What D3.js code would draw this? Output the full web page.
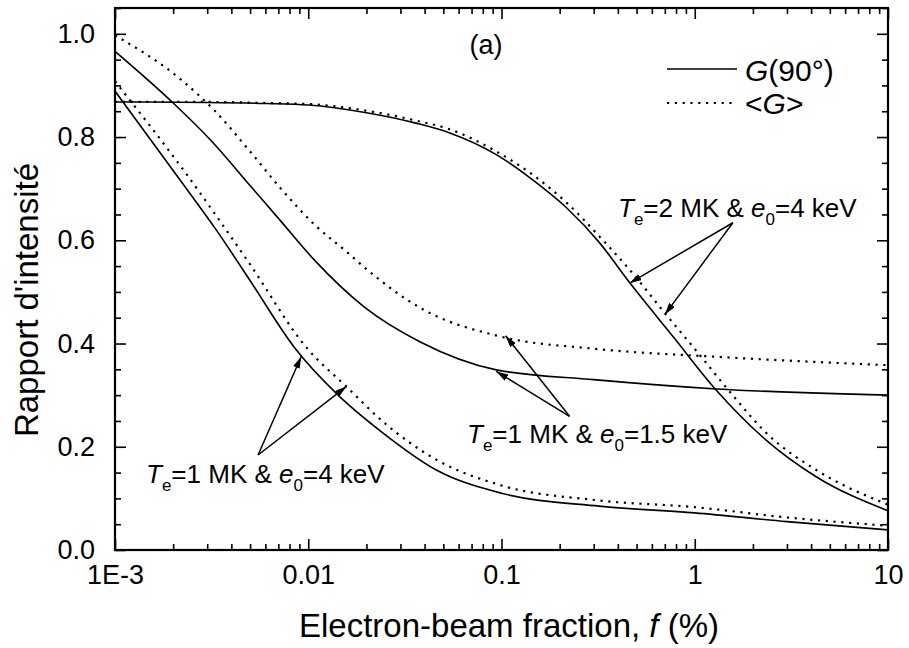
<!DOCTYPE html>
<html>
<head>
<meta charset="utf-8">
<script src="https://cdn.jsdelivr.net/npm/d3@7"></script>
<style>
body { margin: 0; background: #fff; }
text { font-family: "Liberation Sans", Arial, sans-serif; fill: #000; }
</style>
</head>
<body>
<svg id="chart" width="909" height="648"></svg>
<script>
// values, f in %
// Te=1 MK & e0=4 keV
var fT1e4 = [0.001, 0.0022, 0.0033, 0.0049, 0.0085, 0.0141, 0.0243, 0.046, 0.1, 0.32, 1, 3, 10];
var g90T1e4 = [0.889, 0.714, 0.623, 0.527, 0.392, 0.302, 0.227, 0.155, 0.110, 0.085, 0.072, 0.055, 0.039];
var fT1e4avg = [0.001, 0.0022, 0.0049, 0.0098, 0.0158, 0.025, 0.046, 0.1, 0.32, 1, 3, 10];
var avgT1e4 = [0.908, 0.742, 0.558, 0.392, 0.316, 0.245, 0.175, 0.125, 0.096, 0.083, 0.063, 0.047];
// Te=1 MK & e0=1.5 keV
var fT1e15 = [0.001, 0.002, 0.0032, 0.005, 0.0071, 0.0108, 0.0196, 0.038, 0.094, 0.3, 1.3, 10];
var g90T1e15 = [0.966, 0.866, 0.790, 0.706, 0.640, 0.561, 0.470, 0.403, 0.349, 0.330, 0.312, 0.300];
var fT1e15avg = [0.001, 0.0022, 0.0033, 0.0049, 0.0073, 0.0108, 0.016, 0.0196, 0.038, 0.1, 0.3, 1.34, 10];
var avgT1e15 = [0.997, 0.911, 0.850, 0.776, 0.698, 0.630, 0.576, 0.547, 0.469, 0.413, 0.390, 0.374, 0.358];
// Te=2 MK & e0=4 keV
var fT2e4 = [0.001, 0.003, 0.006, 0.01, 0.02, 0.036, 0.054, 0.094, 0.145, 0.217, 0.322, 0.46, 0.77, 1.29, 2.34, 4.25, 10];
var g90T2e4 = [0.868, 0.867, 0.865, 0.862, 0.847, 0.827, 0.808, 0.766, 0.717, 0.663, 0.595, 0.518, 0.414, 0.310, 0.213, 0.142, 0.076];
var fT2e4avg = [0.001, 0.003, 0.006, 0.01, 0.02, 0.036, 0.054, 0.094, 0.145, 0.217, 0.322, 0.46, 0.70, 1.06, 1.57, 2.34, 4.25, 10];
var avgT2e4 = [0.868, 0.868, 0.866, 0.864, 0.851, 0.832, 0.815, 0.772, 0.727, 0.673, 0.607, 0.543, 0.459, 0.378, 0.300, 0.227, 0.155, 0.088];

var xMajor = [0.001, 0.01, 0.1, 1, 10];
var xTickLabels = ["1E-3", "0.01", "0.1", "1", "10"];
var yMajor = [0, 0.2, 0.4, 0.6, 0.8, 1.0];
var yTickLabels = ["0.0", "0.2", "0.4", "0.6", "0.8", "1.0"];

// arrows: [from f, from value, to f, to value]
var arrowsT2e4 = [[1.575, 0.634, 0.46, 0.517], [1.575, 0.634, 0.70, 0.456]];
var arrowsT1e15 = [[0.225, 0.259, 0.094, 0.346], [0.225, 0.259, 0.105, 0.415]];
var arrowsT1e4 = [[0.0055, 0.184, 0.0092, 0.375], [0.0055, 0.184, 0.0158, 0.317]];

var svg = d3.select("#chart");
var pL = 115, pR = 888, pT = 8, pB = 550;
var x = d3.scaleLog().domain([0.001, 10]).range([pL, pR]);
var y = d3.scaleLinear().domain([0, 1.05]).range([pB, pT]);

svg.append("rect").attr("width", 909).attr("height", 648).attr("fill", "#fff");

var defs = svg.append("defs");
defs.append("clipPath").attr("id", "plot")
    .append("rect").attr("x", pL).attr("y", pT).attr("width", pR - pL).attr("height", pB - pT);
defs.append("marker").attr("id", "head")
    .attr("viewBox", "0 0 12 7").attr("refX", 12).attr("refY", 3.5)
    .attr("markerWidth", 12).attr("markerHeight", 7)
    .attr("markerUnits", "userSpaceOnUse").attr("orient", "auto")
    .append("path").attr("d", "M0,0L12,3.5L0,7z").attr("fill", "#000");

// minor tick positions
var xMinor = [];
[0.001, 0.01, 0.1, 1].forEach(function (d) {
    for (var k = 2; k <= 9; k++) xMinor.push(d * k);
});
var yMinor = d3.range(0, 1.051, 0.05).filter(function (v) {
    return Math.abs(v * 5 - Math.round(v * 5)) > 1e-6;
});

function styleAxis(g) {
    g.select(".domain").remove();
    g.selectAll("line").attr("stroke", "#000").attr("stroke-width", 1.6);
    g.selectAll("text").attr("font-size", 27).attr("font-family", "Liberation Sans, Arial, sans-serif");
}

// bottom / top
svg.append("g").attr("transform", "translate(0," + pB + ")")
    .call(d3.axisBottom(x).tickValues(xMajor).tickFormat(function (d, i) { return xTickLabels[i]; })
        .tickSizeInner(-11).tickSizeOuter(0).tickPadding(15))
    .call(styleAxis);
svg.append("g").attr("transform", "translate(0," + pB + ")")
    .call(d3.axisBottom(x).tickValues(xMinor).tickFormat("").tickSizeInner(-6).tickSizeOuter(0))
    .call(styleAxis);
svg.append("g").attr("transform", "translate(0," + pT + ")")
    .call(d3.axisTop(x).tickValues(xMajor).tickFormat("").tickSizeInner(-11).tickSizeOuter(0))
    .call(styleAxis);
svg.append("g").attr("transform", "translate(0," + pT + ")")
    .call(d3.axisTop(x).tickValues(xMinor).tickFormat("").tickSizeInner(-6).tickSizeOuter(0))
    .call(styleAxis);

// left / right
svg.append("g").attr("transform", "translate(" + pL + ",0)")
    .call(d3.axisLeft(y).tickValues(yMajor).tickFormat(function (d, i) { return yTickLabels[i]; })
        .tickSizeInner(-11).tickSizeOuter(0).tickPadding(20))
    .call(styleAxis);
svg.append("g").attr("transform", "translate(" + pL + ",0)")
    .call(d3.axisLeft(y).tickValues(yMinor).tickFormat("").tickSizeInner(-6).tickSizeOuter(0))
    .call(styleAxis);
svg.append("g").attr("transform", "translate(" + pR + ",0)")
    .call(d3.axisRight(y).tickValues(yMajor).tickFormat("").tickSizeInner(-11).tickSizeOuter(0))
    .call(styleAxis);
svg.append("g").attr("transform", "translate(" + pR + ",0)")
    .call(d3.axisRight(y).tickValues(yMinor).tickFormat("").tickSizeInner(-6).tickSizeOuter(0))
    .call(styleAxis);

svg.append("rect").attr("x", pL).attr("y", pT).attr("width", pR - pL).attr("height", pB - pT)
    .attr("fill", "none").attr("stroke", "#000").attr("stroke-width", 2.2);

// curves
var line = d3.line()
    .x(function (d) { return x(d[0]); })
    .y(function (d) { return y(d[1]); })
    .curve(d3.curveMonotoneX);

var series = [
    [fT1e4, g90T1e4, false], [fT1e4avg, avgT1e4, true],
    [fT1e15, g90T1e15, false], [fT1e15avg, avgT1e15, true],
    [fT2e4, g90T2e4, false], [fT2e4avg, avgT2e4, true]
];
var plot = svg.append("g").attr("clip-path", "url(#plot)");
series.forEach(function (s) {
    plot.append("path")
        .datum(d3.zip(s[0], s[1]))
        .attr("d", line)
        .attr("fill", "none")
        .attr("stroke", "#000")
        .attr("stroke-width", s[2] ? 2.2 : 1.6)
        .attr("stroke-dasharray", s[2] ? "2.2,5.6" : null);
});

// arrows
[arrowsT2e4, arrowsT1e15, arrowsT1e4].forEach(function (set) {
    set.forEach(function (a) {
        svg.append("line")
            .attr("x1", x(a[0])).attr("y1", y(a[1]))
            .attr("x2", x(a[2])).attr("y2", y(a[3]))
            .attr("stroke", "#000").attr("stroke-width", 1.5)
            .attr("marker-end", "url(#head)");
    });
});

// labels with subscripts
function note(px, py, t1, t2) {
    var t = svg.append("text").attr("x", px).attr("y", py).attr("font-size", 26);
    t.append("tspan").attr("font-style", "italic").text("T");
    t.append("tspan").attr("font-size", 17).attr("dy", 8).text("e");
    t.append("tspan").attr("dy", -8).text(t1);
    t.append("tspan").attr("font-style", "italic").text("e");
    t.append("tspan").attr("font-size", 17).attr("dy", 8).text("0");
    t.append("tspan").attr("dy", -8).text(t2);
}
note(618, 217, "=2 MK & ", "=4 keV");
note(467, 443, "=1 MK & ", "=1.5 keV");
note(146, 483, "=1 MK & ", "=4 keV");

svg.append("text").attr("x", 486).attr("y", 54).attr("text-anchor", "middle")
    .attr("font-size", 27).text("(a)");

// legend
svg.append("line").attr("x1", 667).attr("x2", 737).attr("y1", 69).attr("y2", 69)
    .attr("stroke", "#000").attr("stroke-width", 1.6);
svg.append("line").attr("x1", 667).attr("x2", 737).attr("y1", 103).attr("y2", 103)
    .attr("stroke", "#000").attr("stroke-width", 2.2).attr("stroke-dasharray", "2.2,5.6");
var l1 = svg.append("text").attr("x", 745).attr("y", 81).attr("font-size", 30);
l1.append("tspan").attr("font-style", "italic").text("G");
l1.append("tspan").text("(90°)");
var l2 = svg.append("text").attr("x", 745).attr("y", 114).attr("font-size", 30);
l2.append("tspan").text("<");
l2.append("tspan").attr("font-style", "italic").text("G");
l2.append("tspan").text(">");

// axis titles
var xt = svg.append("text").attr("x", 509).attr("y", 637).attr("text-anchor", "middle").attr("font-size", 33);
xt.append("tspan").text("Electron-beam fraction, ");
xt.append("tspan").attr("font-style", "italic").text("f");
xt.append("tspan").text(" (%)");

svg.append("text").attr("transform", "translate(38,300) rotate(-90)")
    .attr("text-anchor", "middle").attr("font-size", 33).text("Rapport d'intensité");
</script>
</body>
</html>
